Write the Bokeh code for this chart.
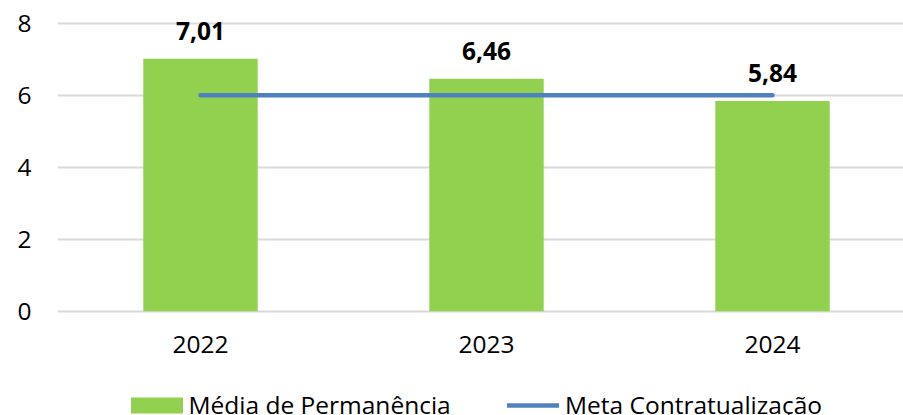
from bokeh.plotting import figure
from bokeh.models import Range1d, FixedTicker, Legend, LegendItem, ColumnDataSource
from bokeh.core.properties import value
from bokeh.embed import file_html
from bokeh.resources import INLINE

years = ["2022", "2023", "2024"]
media_permanencia = [7.01, 6.46, 5.84]
meta_contratualizacao = [6, 6, 6]
value_labels = ["7,01", "6,46", "5,84"]
y_ticks = [0, 2, 4, 6, 8]

xpos = list(range(len(years)))
src = ColumnDataSource(dict(x=xpos, media=media_permanencia, meta=meta_contratualizacao, lab=value_labels))

FONT = "Open Sans"
FS = "24.5px"

p = figure(frame_width=846, frame_height=401, output_backend="svg", toolbar_location=None,
           x_range=Range1d(-0.5, 2.458), y_range=Range1d(-2.897, 8.242),
           min_border_left=57, min_border_right=0, min_border_top=14, min_border_bottom=0)
p.outline_line_color = None
p.background_fill_color = "white"

p.xgrid.grid_line_color = None
p.ygrid.ticker = FixedTicker(ticks=y_ticks)
p.ygrid.grid_line_color = "#D9D9D9"
p.ygrid.grid_line_width = 2

for ax in (p.xaxis, p.yaxis):
    ax.axis_line_color = None
    ax.major_tick_line_color = None
    ax.minor_tick_line_color = None
    ax.major_tick_out = 0
    ax.major_tick_in = 0
    ax.major_label_text_font = FONT
    ax.major_label_text_font_size = FS
    ax.major_label_text_color = "black"

p.yaxis.ticker = FixedTicker(ticks=y_ticks)
p.yaxis.major_label_standoff = 26
p.xaxis.ticker = FixedTicker(ticks=xpos)
p.xaxis.major_label_overrides = {i: y for i, y in zip(xpos, years)}
p.xaxis.major_label_standoff = 25
p.xaxis.fixed_location = 0

bars = p.vbar(x="x", top="media", width=0.4, source=src, fill_color="#92D050", line_color=None)
line = p.line(x="x", y="meta", source=src, line_width=4.5, line_color="#4F81BD", line_cap="round")
p.text(x="x", y="media", text="lab", source=src, text_align="center", text_baseline="alphabetic",
       y_offset=-28, text_font=value(FONT), text_font_style="bold", text_font_size=FS, text_color="black")

common = dict(orientation="horizontal", padding=0, margin=0, border_line_color=None,
              background_fill_alpha=0, label_text_font=FONT, label_text_font_size=FS,
              label_text_color="black", label_height=40)
legend1 = Legend(items=[LegendItem(label="Média de Permanência", renderers=[bars])],
                 location=(66.5, -9.7), glyph_width=65, glyph_height=20, label_standoff=0, **common)
legend2 = Legend(items=[LegendItem(label="Meta Contratualização", renderers=[line])],
                 location=(450, -9.7), glyph_width=52, glyph_height=16, label_standoff=6, **common)
p.add_layout(legend1)
p.add_layout(legend2)

open("out.html", "w").write(file_html(p, INLINE))
